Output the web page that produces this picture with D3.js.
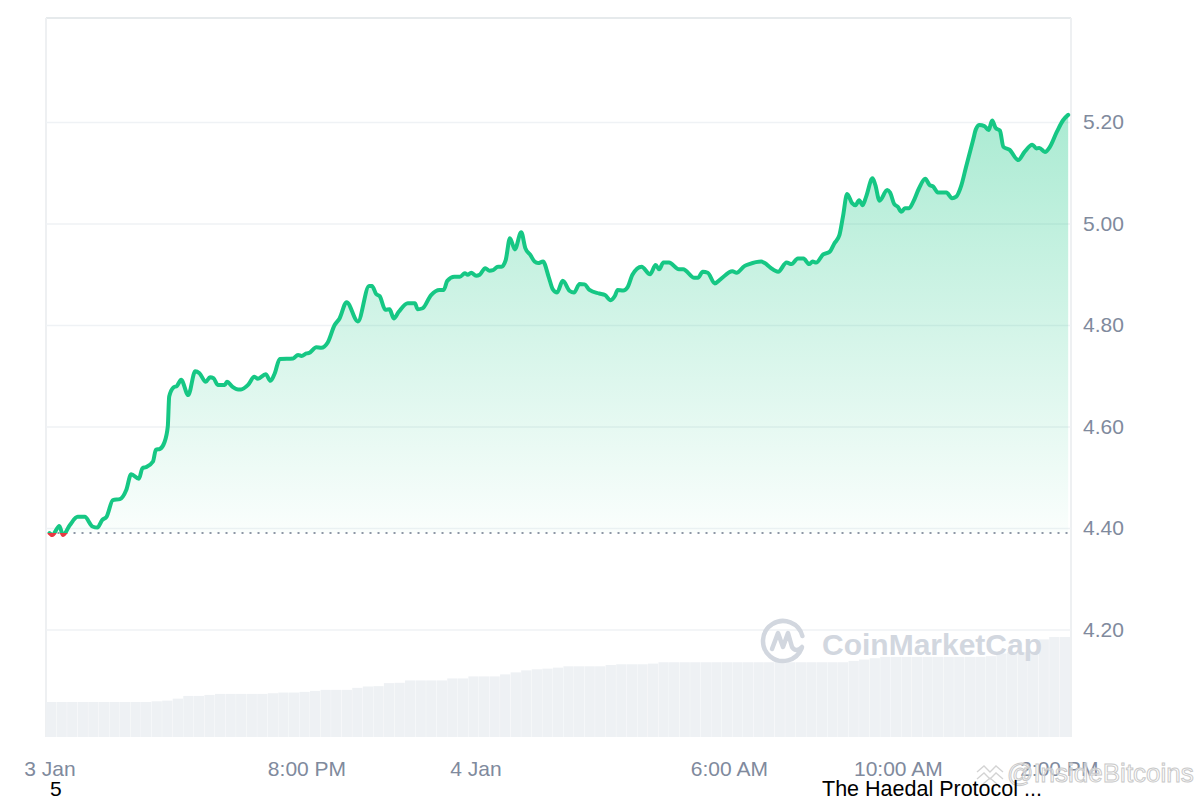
<!DOCTYPE html>
<html><head><meta charset="utf-8">
<script src="https://cdn.jsdelivr.net/npm/d3@7"></script>
<style>body{margin:0;background:#fff}svg{display:block}</style>
</head><body>
<svg id="c" width="1200" height="800"></svg>
<script>
// ---------- DATA ----------
const times = ["03 13:55","03 13:59","03 14:09","03 14:14","03 14:24","03 14:35","03 14:45","03 14:56","03 15:03","03 15:10","03 15:16","03 15:25","03 15:35","03 15:44","03 15:51","03 16:02","03 16:07","03 16:12","03 16:22","03 16:26","03 16:32","03 16:38","03 16:43","03 16:45","03 16:51","03 16:56","03 17:02","03 17:12","03 17:22","03 17:28","03 17:37","03 17:43","03 17:48","03 17:54","03 18:04","03 18:07","03 18:15","03 18:23","03 18:27","03 18:37","03 18:46","03 18:51","03 19:02","03 19:09","03 19:15","03 19:22","03 19:41","03 19:48","03 19:53","03 20:00","03 20:04","03 20:14","03 20:21","03 20:30","03 20:40","03 20:47","03 20:57","03 21:13","03 21:29","03 21:33","03 21:39","03 21:44","03 21:52","03 21:58","03 22:04","03 22:11","03 22:24","03 22:34","03 22:38","03 22:45","03 22:57","03 23:09","03 23:15","03 23:20","03 23:30","03 23:38","03 23:45","03 23:49","03 23:54","04 00:01","04 00:06","04 00:14","04 00:20","04 00:25","04 00:32","04 00:37","04 00:43","04 00:49","04 00:56","04 01:05","04 01:11","04 01:18","04 01:24","04 01:29","04 01:36","04 01:44","04 01:50","04 01:56","04 02:04","04 02:14","04 02:20","04 02:28","04 02:35","04 02:42","04 02:56","04 03:04","04 03:12","04 03:18","04 03:22","04 03:30","04 03:36","04 03:43","04 03:56","04 04:08","04 04:16","04 04:21","04 04:27","04 04:35","04 04:49","04 04:55","04 05:11","04 05:16","04 05:23","04 05:30","04 05:40","04 05:48","04 06:05","04 06:11","04 06:22","04 06:29","04 06:46","04 06:51","04 06:59","04 07:10","04 07:22","04 07:29","04 07:38","04 07:46","04 07:54","04 07:59","04 08:04","04 08:14","04 08:23","04 08:30","04 08:37","04 08:42","04 08:48","04 08:55","04 09:00","04 09:05","04 09:10","04 09:15","04 09:24","04 09:28","04 09:34","04 09:45","04 09:49","04 09:55","04 10:00","04 10:05","04 10:10","04 10:16","04 10:22","04 10:30","04 10:39","04 10:45","04 10:50","04 10:57","04 11:09","04 11:17","04 11:23","04 11:30","04 11:37","04 11:47","04 11:51","04 11:56","04 12:03","04 12:09","04 12:14","04 12:19","04 12:25","04 12:30","04 12:39","04 12:51","04 13:00","04 13:11","04 13:17","04 13:21","04 13:29","04 13:36","04 13:46","04 13:55","04 14:02"];
const prices = [4.390,4.386,4.404,4.386,4.406,4.422,4.422,4.403,4.401,4.416,4.422,4.455,4.457,4.475,4.506,4.497,4.518,4.520,4.531,4.554,4.556,4.568,4.600,4.659,4.677,4.680,4.692,4.662,4.709,4.705,4.688,4.697,4.695,4.682,4.682,4.688,4.678,4.673,4.673,4.682,4.698,4.694,4.703,4.690,4.705,4.733,4.734,4.741,4.739,4.744,4.745,4.756,4.755,4.765,4.800,4.813,4.845,4.807,4.877,4.877,4.861,4.857,4.830,4.831,4.813,4.826,4.843,4.843,4.831,4.833,4.859,4.869,4.869,4.887,4.895,4.895,4.902,4.899,4.903,4.897,4.899,4.912,4.907,4.908,4.915,4.915,4.928,4.971,4.949,4.983,4.951,4.938,4.925,4.922,4.925,4.895,4.870,4.864,4.887,4.867,4.864,4.881,4.880,4.869,4.862,4.859,4.849,4.857,4.869,4.868,4.874,4.899,4.915,4.900,4.918,4.910,4.923,4.923,4.910,4.910,4.893,4.893,4.905,4.903,4.882,4.890,4.906,4.903,4.916,4.920,4.925,4.922,4.913,4.905,4.923,4.920,4.931,4.931,4.920,4.925,4.923,4.939,4.944,4.961,4.977,5.013,5.058,5.040,5.036,5.046,5.036,5.053,5.089,5.076,5.045,5.066,5.061,5.038,5.033,5.023,5.030,5.030,5.043,5.069,5.088,5.076,5.073,5.061,5.061,5.050,5.053,5.074,5.112,5.165,5.186,5.194,5.192,5.184,5.203,5.188,5.183,5.151,5.145,5.125,5.141,5.155,5.148,5.149,5.141,5.151,5.181,5.204,5.214];
const openPrice = 4.390;
const volumes = [10.4,10.4,10.4,10.4,10.4,10.4,10.4,10.4,10.4,10.4,10.6,10.8,11.4,12.2,12.2,12.5,12.8,12.8,12.8,12.8,12.8,13.0,13.2,13.2,13.4,13.7,14.0,14.0,14.0,14.6,15.0,15.1,16.0,16.1,16.8,16.8,16.8,16.8,17.4,17.4,18.0,18.0,18.0,18.6,19.2,19.8,20.1,20.3,20.6,21.0,21.0,21.0,21.0,21.4,21.6,21.6,21.6,21.8,22.2,22.2,22.2,22.2,22.2,22.2,22.2,22.2,22.2,22.2,22.2,22.2,22.2,22.2,22.2,22.2,22.2,22.2,22.6,23.0,23.4,23.8,23.8,23.8,23.8,23.8,23.8,23.8,23.8,23.8,23.8,24.0,24.8,25.2,25.2,25.4,29.0,29.7,29.7];
const volumeStart = "03 13:50";
const volumeStepMinutes = 15;
const yTicks = [4.20, 4.40, 4.60, 4.80, 5.00, 5.20];
const xTickTimes = ["03 13:55","03 20:00","04 00:00","04 06:00","04 10:00","04 14:00"];
const xTickLabels = ["3 Jan","8:00 PM","4 Jan","6:00 AM","10:00 AM","2:00 PM"];
const timeDomain = ["03 13:50","04 14:06"];

// ---------- LAYOUT ----------
const L = 46, R = 1071, T = 18, B = 737;
const FONT = "'Liberation Sans', Arial, sans-serif";
const GREEN = "#16c784", RED = "#ea3943", AXIS = "#808a9d";
const parse = d3.timeParse("%d %H:%M");
const data = times.map((t,i)=>({t:parse(t), v:prices[i]}));

const svg = d3.select("#c");
const x = d3.scaleTime().domain(timeDomain.map(parse)).range([L, R]);
const y = d3.scaleLinear().domain([4.40, 5.20]).range([528, 122]);
const yV = d3.scaleLinear().domain([0, 30]).range([B, 636]);

// gradient
const defs = svg.append("defs");
const g1 = defs.append("linearGradient").attr("id","gfill").attr("gradientUnits","userSpaceOnUse")
  .attr("x1",0).attr("x2",0).attr("y1",y(5.21)).attr("y2",y(openPrice));
g1.append("stop").attr("offset",0).attr("stop-color",GREEN).attr("stop-opacity",0.36);
g1.append("stop").attr("offset",1).attr("stop-color",GREEN).attr("stop-opacity",0.02);
const yb = y(openPrice);
defs.append("clipPath").attr("id","above").append("rect").attr("x",0).attr("y",0).attr("width",1200).attr("height",yb);
defs.append("clipPath").attr("id","below").append("rect").attr("x",0).attr("y",yb).attr("width",1200).attr("height",800-yb);

// frame borders
svg.append("line").attr("x1",L).attr("x2",R).attr("y1",T).attr("y2",T).attr("stroke","#e6eaec").attr("stroke-width",2);
svg.append("line").attr("x1",L).attr("x2",L).attr("y1",T).attr("y2",B).attr("stroke","#eef0f2").attr("stroke-width",2);
svg.append("line").attr("x1",R).attr("x2",R).attr("y1",T).attr("y2",B).attr("stroke","#eef0f2").attr("stroke-width",2);

// gridlines
const grid = svg.append("g").attr("transform",`translate(${R},0)`)
  .call(d3.axisLeft(y).tickValues(yTicks).tickSize(R-L).tickFormat(""));
grid.select(".domain").remove();
grid.selectAll("line").attr("stroke","#eff2f5").attr("stroke-width",1.5);

// volume bars
const vStart = parse(volumeStart);
svg.append("g").selectAll("rect").data(volumes).join("rect")
  .attr("x",(d,i)=>x(d3.timeMinute.offset(vStart, i*volumeStepMinutes)))
  .attr("width",(d,i)=>{
    const a = x(d3.timeMinute.offset(vStart, i*volumeStepMinutes));
    const b = Math.min(R, x(d3.timeMinute.offset(vStart, (i+1)*volumeStepMinutes)));
    return Math.max(0, b-a-0.3);
  })
  .attr("y",d=>yV(d)).attr("height",d=>B-yV(d))
  .attr("fill","#eef1f4");

// CoinMarketCap watermark
const wm = svg.append("g").attr("fill","none").attr("stroke","#d2d7df").attr("stroke-width",4.5).attr("stroke-linecap","round").attr("stroke-linejoin","round");
const cx=783, cy=641, r=20;
wm.append("path").attr("d", d3.arc()({innerRadius:r, outerRadius:r, startAngle:Math.PI*0.62, endAngle:Math.PI*2.42}))
  .attr("transform",`translate(${cx},${cy})`);
wm.append("path").attr("d",`M${cx-11},${cy+8} L${cx-5},${cy-8} L${cx},${cy+6} L${cx+5},${cy-8} L${cx+9},${cy+6} Q${cx+13},${cy+12} ${cx+19},${cy+6}`);
svg.append("text").attr("x",822).attr("y",655).attr("font-family",FONT).attr("font-weight","bold")
  .attr("font-size",30).attr("fill","#d2d7df").text("CoinMarketCap");

// area + line
const area = d3.area().x(d=>x(d.t)).y0(yb).y1(d=>y(d.v)).curve(d3.curveMonotoneX);
const line = d3.line().x(d=>x(d.t)).y(d=>y(d.v)).curve(d3.curveMonotoneX);
svg.append("path").datum(data).attr("d",area).attr("fill","url(#gfill)").attr("clip-path","url(#above)");

// baseline dotted
svg.append("line").attr("x1",x(data[0].t)).attr("x2",R-3).attr("y1",yb).attr("y2",yb)
  .attr("stroke","#8e97a6").attr("stroke-width",2).attr("stroke-dasharray","2 6");

svg.append("path").datum(data).attr("d",line).attr("fill","none").attr("stroke",GREEN)
  .attr("stroke-width",4).attr("stroke-linejoin","round").attr("stroke-linecap","round").attr("clip-path","url(#above)");
svg.append("path").datum(data).attr("d",line).attr("fill","none").attr("stroke",RED)
  .attr("stroke-width",4).attr("stroke-linejoin","round").attr("stroke-linecap","round").attr("clip-path","url(#below)");

// y axis labels
const ya = svg.append("g").attr("transform",`translate(${R},0)`)
  .call(d3.axisRight(y).tickValues(yTicks).tickSize(0).tickPadding(12).tickFormat(d3.format(".2f")));
ya.select(".domain").remove();
ya.selectAll("text").attr("font-family",FONT).attr("font-size",21).attr("fill",AXIS);

// x axis labels
const xa = svg.append("g").attr("transform",`translate(0,${B})`)
  .call(d3.axisBottom(x).tickValues(xTickTimes.map(parse)).tickSize(0).tickPadding(24).tickFormat((d,i)=>xTickLabels[i]));
xa.select(".domain").remove();
xa.selectAll("text").attr("font-family",FONT).attr("font-size",21).attr("fill",AXIS)
  .attr("dx",(d,i)=> i===xTickLabels.length-1 ? -8 : 0);

// InsideBitcoins watermark
const ib = svg.append("g").attr("fill","none").attr("stroke","#cfcfcf").attr("stroke-width",1.3).attr("opacity",0.9);
ib.append("path").attr("d","M977,772 L984,766 L990,772 L996,766 L1003,772");
ib.append("path").attr("d","M977,779 L984,773 L990,779 L996,773 L1003,779");
ib.append("path").attr("d","M983,784 L990,778 L997,784");
svg.append("text").attr("x",1007).attr("y",782).attr("font-family",FONT).attr("font-size",26)
  .attr("fill","rgba(255,255,255,0.55)").attr("stroke","#c9c9c9").attr("stroke-width",1).text("@InsideBitcoins");

// bottom captions
svg.append("text").attr("x",50).attr("y",796).attr("font-family",FONT).attr("font-size",21).attr("fill","#000").text("5");
svg.append("text").attr("x",822).attr("y",796).attr("font-family",FONT).attr("font-size",21.5).attr("fill","#000").text("The Haedal Protocol ...");
</script>
</body></html>
